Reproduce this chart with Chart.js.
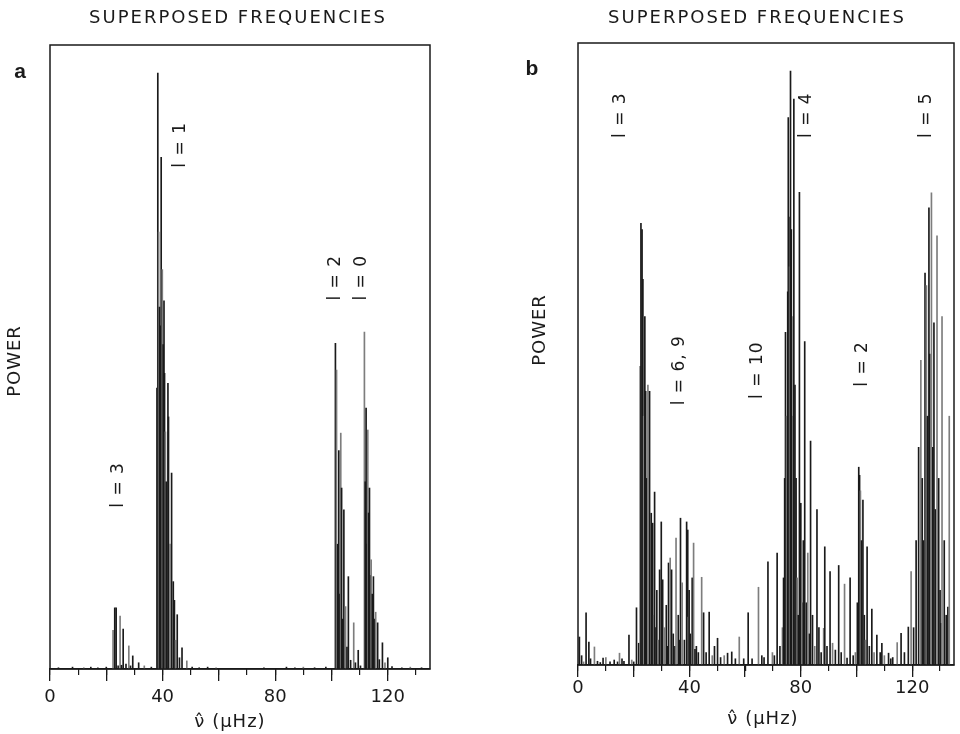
<!DOCTYPE html>
<html>
<head>
<meta charset="utf-8">
<script src="https://cdn.jsdelivr.net/npm/chart.js@4.4.0/dist/chart.umd.min.js"></script>
<style>
  html, body { margin: 0; padding: 0; background: #fff; }
  #wrap { position: relative; width: 960px; height: 734px; }
  canvas { position: absolute; top: 0; }
  #chartA { left: 0; }
  #chartB { left: 480px; }
</style>
</head>
<body>
<div id="wrap">
  <canvas id="chartA" width="480" height="734"></canvas>
  <canvas id="chartB" width="480" height="734"></canvas>
</div>
<script>
// frequency axis (muHz) and relative power (0..100 = frame height)
const tickLabels = [0, 40, 80, 120];

// panel a
const nuA = [3.0, 8.0, 12.0, 14.5, 17.0, 20.0, 22.4, 23.0, 23.5, 24.2, 24.9, 25.4, 26.0, 27.0, 28.0, 28.6, 29.4, 31.5, 33.5, 36.0,
  38.0, 38.3, 38.6, 38.9, 39.2, 39.5, 39.9, 40.2, 40.5, 40.7, 41.0, 41.3, 41.9, 42.1, 42.6, 43.2, 43.8, 44.2, 44.6, 45.2,
  46.0, 46.9, 48.6, 50.5, 53.0, 56.0, 59.0, 76.0, 84.0, 87.0, 90.0, 94.0, 98.0,
  101.4, 101.8, 102.2, 102.6, 103.0, 103.3, 103.6, 104.0, 104.4, 105.0, 105.5, 106.0, 106.8, 107.9, 108.5, 109.5, 110.3,
  111.7, 112.0, 112.3, 112.6, 112.9, 113.2, 113.5, 113.8, 114.1, 114.5, 114.9, 115.3, 115.7, 116.4, 117.0, 118.1, 119.0, 120.0,
  121.5, 125.0, 128.0, 132.0];
const powA = [0.2, 0.3, 0.2, 0.3, 0.2, 0.3, 6.2, 9.8, 9.8, 0.5, 8.5, 0.6, 6.4, 0.8, 3.7, 0.5, 2.1, 1.0, 0.5, 0.3,
  45, 95.5, 70, 58, 55, 82, 64, 52, 59, 47.4, 38, 30, 45.8, 40.4, 20, 31.4, 14, 11, 4.6, 8.7,
  1.8, 3.4, 1.3, 0.3, 0.2, 0.3, 0.2, 0.2, 0.3, 0.2, 0.3, 0.2, 0.3,
  52.2, 47.9, 20, 35, 12, 37.8, 29, 8, 25.5, 10, 3.5, 14.8, 1.4, 7.4, 1.0, 3.0, 0.5,
  54, 30, 41.8, 20, 38.3, 25, 29, 15, 17.5, 12, 14.8, 8, 9.1, 7.4, 1.5, 4.2, 1.0, 1.8,
  0.4, 0.2, 0.3, 0.2];

// panel b
const nuB = [0.5, 1.3, 2.0, 2.9, 3.9, 4.5, 5.9, 7.0, 8.0, 9.0, 10.0, 11.5, 13.0, 14.2, 14.9, 15.8, 16.5, 18.3, 19.3, 20.0,
  21.0, 21.8, 22.3, 22.6, 23.0, 23.3, 23.6, 24.0, 24.3, 24.7, 25.1, 25.7, 26.3, 26.8, 27.2, 27.5, 28.0, 28.3, 28.8, 29.3,
  29.9, 30.4, 31.0, 31.7, 32.1, 32.5, 33.1, 33.6, 34.2, 34.8, 35.2, 36.0, 36.5, 36.8, 37.4, 38.2, 39.0, 39.4, 39.6, 39.9,
  40.3, 41.0, 41.5, 42.0, 42.5, 43.2, 44.4, 45.1, 46.0, 47.1, 48.2, 49.0, 50.1, 51.2, 52.5, 53.7, 55.2, 56.5, 57.9, 59.5,
  61.1, 62.5, 64.8, 66.0, 66.8, 68.2, 69.8, 70.5, 71.5, 72.5, 73.4, 73.8, 74.2, 74.5, 74.9, 75.3, 75.5, 75.7, 76.0, 76.3,
  76.6, 76.9, 77.2, 77.5, 77.9, 78.3, 78.7, 79.1, 79.5, 80.0, 80.5, 80.9, 81.4, 82.0, 82.5, 83.1, 83.5, 84.2, 85.0, 85.8,
  86.5, 87.3, 88.2, 88.6, 89.4, 90.5, 91.4, 92.4, 93.6, 94.5, 95.7, 96.6, 97.7, 98.8, 99.6,
  100.3, 100.8, 101.1, 101.4, 101.8, 102.3, 102.8, 103.2, 103.8, 104.6, 105.5, 106.3, 107.3, 108.5, 109.1, 110.0, 111.5, 112.3, 113.0, 114.6,
  116.0, 117.2, 118.6, 119.6, 120.5, 121.4, 122.3, 123.1, 123.6, 124.0, 124.6, 125.1, 125.5, 126.0, 126.3, 126.9, 127.4, 127.8, 128.3, 128.9,
  129.5, 130.0, 130.3, 130.7, 131.5, 132.2, 132.8, 133.3];
const powB = [4.5, 1.5, 0.5, 8.4, 3.7, 1.0, 2.9, 0.6, 0.4, 1.1, 1.2, 0.5, 0.8, 0.5, 1.9, 1.0, 0.6, 4.8, 0.8, 0.5,
  9.2, 3.5, 48, 71, 70, 62, 40, 56, 44, 30, 45, 44, 24.4, 22.8, 8, 27.8, 6, 12, 4, 15.3,
  23, 13.7, 6, 9.6, 3, 16.4, 17.2, 15.3, 5, 3, 20.4, 8, 4, 23.6, 13.2, 4, 23, 21.7, 7.7, 12,
  5, 14, 19.6, 2.5, 3, 2, 14.1, 8.4, 2, 8.5, 1.5, 3, 4.3, 1.2, 1.5, 1.9, 2.1, 1.0, 4.5, 1.0,
  8.4, 1.0, 12.5, 1.5, 1.2, 16.6, 2, 1.5, 18, 3, 6, 14, 30, 53.5, 40, 60, 88, 72, 64, 95.5,
  70, 40, 56, 91, 45, 30, 14, 8, 76, 26, 10, 20, 52, 10, 18, 5, 36, 8, 3, 25,
  6, 2, 5.9, 19, 3, 15, 3.5, 2.4, 16, 2, 13, 1.1, 14, 1.5, 2,
  10, 31.8, 30.5, 28, 20, 26.5, 8, 4, 19, 3, 9, 2, 4.8, 2, 3.5, 1.5, 1.9, 1.0, 1.2, 3.6,
  5.1, 2, 6.1, 15, 6, 20, 35, 49, 30, 20, 63, 61, 40, 73.5, 50, 75.9, 35, 55, 25, 69,
  30, 12, 6.7, 56, 20, 8, 9.3, 40];

// mode labels
const labelsA = ['l = 3', 'l = 1', 'l = 2', 'l = 0'];
const labelNuA = [24.5, 46.5, 101.6, 110.8];
const labelPowA = [29.5, 84, 62.7, 62.7];
const labelsB = ['l = 3', 'l = 6, 9', 'l = 10', 'l = 4', 'l = 2', 'l = 5'];
const labelNuB = [15.4, 36.6, 64.3, 81.9, 102, 125.3];
const labelPowB = [88.4, 47.4, 47.4, 88.4, 48.4, 88.4];

const INK = '#1a1a1a';

const overlay = {
  id: 'overlay',
  afterDraw(chart, args, o) {
    const ctx = chart.ctx;
    const a = chart.chartArea;
    const xs = chart.scales.x, ys = chart.scales.y;
    ctx.save();
    // frame
    ctx.strokeStyle = INK;
    ctx.lineWidth = 1.5;
    ctx.strokeRect(a.left, a.top, a.right - a.left, a.bottom - a.top);
    ctx.fillStyle = INK;
    ctx.textAlign = 'center';
    ctx.textBaseline = 'middle';

    ctx.font = '18px "DejaVu Sans"';
    ctx.letterSpacing = '2px';
    ctx.fillText('SUPERPOSED FREQUENCIES', o.title[0], o.title[1]);

    ctx.font = 'bold 21px "Liberation Sans"';
    ctx.letterSpacing = '0px';
    ctx.fillText(o.letter, o.letterPos[0], o.letterPos[1]);

    ctx.font = '18px "DejaVu Sans"';
    ctx.letterSpacing = '1px';
    ctx.fillText('ν\u0302 (μHz)', o.xTitle[0], o.xTitle[1]);

    ctx.save();
    ctx.translate(o.power[0], o.power[1]);
    ctx.rotate(-Math.PI / 2);
    ctx.fillText('POWER', 0, 0);
    ctx.restore();

    ctx.font = '17px "DejaVu Sans"';
    o.labels.forEach((t, i) => {
      ctx.save();
      ctx.translate(xs.getPixelForValue(o.labelNu[i]), ys.getPixelForValue(o.labelPow[i]));
      ctx.rotate(-Math.PI / 2);
      ctx.fillText(t, 0, 0);
      ctx.restore();
    });
    ctx.restore();
  }
};

function makePanel(id, nu, pow, g, texts) {
  const W = 480, H = 734;
  const points = nu.map((v, i) => ({ x: v, y: pow[i] }));
  return new Chart(document.getElementById(id), {
    type: 'bar',
    data: {
      datasets: [{
        data: points,
        barThickness: 1,
        borderWidth: 0,
        backgroundColor: c => (c.dataIndex % 4 === 2 ? '#7d7d7d' : INK)
      }]
    },
    options: {
      responsive: false,
      animation: false,
      layout: { padding: { left: g.left, right: W - g.right, top: g.top, bottom: 0 } },
      plugins: {
        legend: { display: false },
        tooltip: { enabled: false },
        overlay: texts
      },
      scales: {
        x: {
          type: 'linear', position: 'bottom', weight: 1,
          min: 0, max: 135, offset: false,
          ticks: {
            stepSize: 20, includeBounds: false, autoSkip: false, maxRotation: 0,
            padding: g.tickPad, color: INK,
            font: { family: 'DejaVu Sans', size: 18 },
            callback: v => (tickLabels.includes(v) ? String(v) : '')
          },
          grid: { drawOnChartArea: false, offset: false, tickLength: 12, color: INK, lineWidth: 1.3 },
          border: { display: true, color: INK, width: 1.5 },
          afterFit: s => { s.height = H - g.bottom; }
        },
        xm: {
          type: 'linear', position: 'bottom', weight: 0,
          min: 0, max: 135, offset: false,
          ticks: { stepSize: 10, includeBounds: false, display: false },
          grid: { drawOnChartArea: false, offset: false, tickLength: 6, color: INK, lineWidth: 1.2 },
          border: { display: false },
          afterFit: s => { s.height = 0; }
        },
        y: { display: false, min: 0, max: 100 }
      }
    },
    plugins: [overlay]
  });
}

makePanel('chartA', nuA, powA, { left: 50, right: 430, top: 45, bottom: 669, tickPad: 6 }, {
  title: [238, 18], letter: 'a', letterPos: [20, 72], power: [15, 361], xTitle: [230, 722],
  labels: labelsA, labelNu: labelNuA, labelPow: labelPowA
});
makePanel('chartB', nuB, powB, { left: 98, right: 474, top: 43, bottom: 665, tickPad: 1 }, {
  title: [277, 18], letter: 'b', letterPos: [52, 69], power: [60, 330], xTitle: [283, 719],
  labels: labelsB, labelNu: labelNuB, labelPow: labelPowB
});
</script>
</body>
</html>
